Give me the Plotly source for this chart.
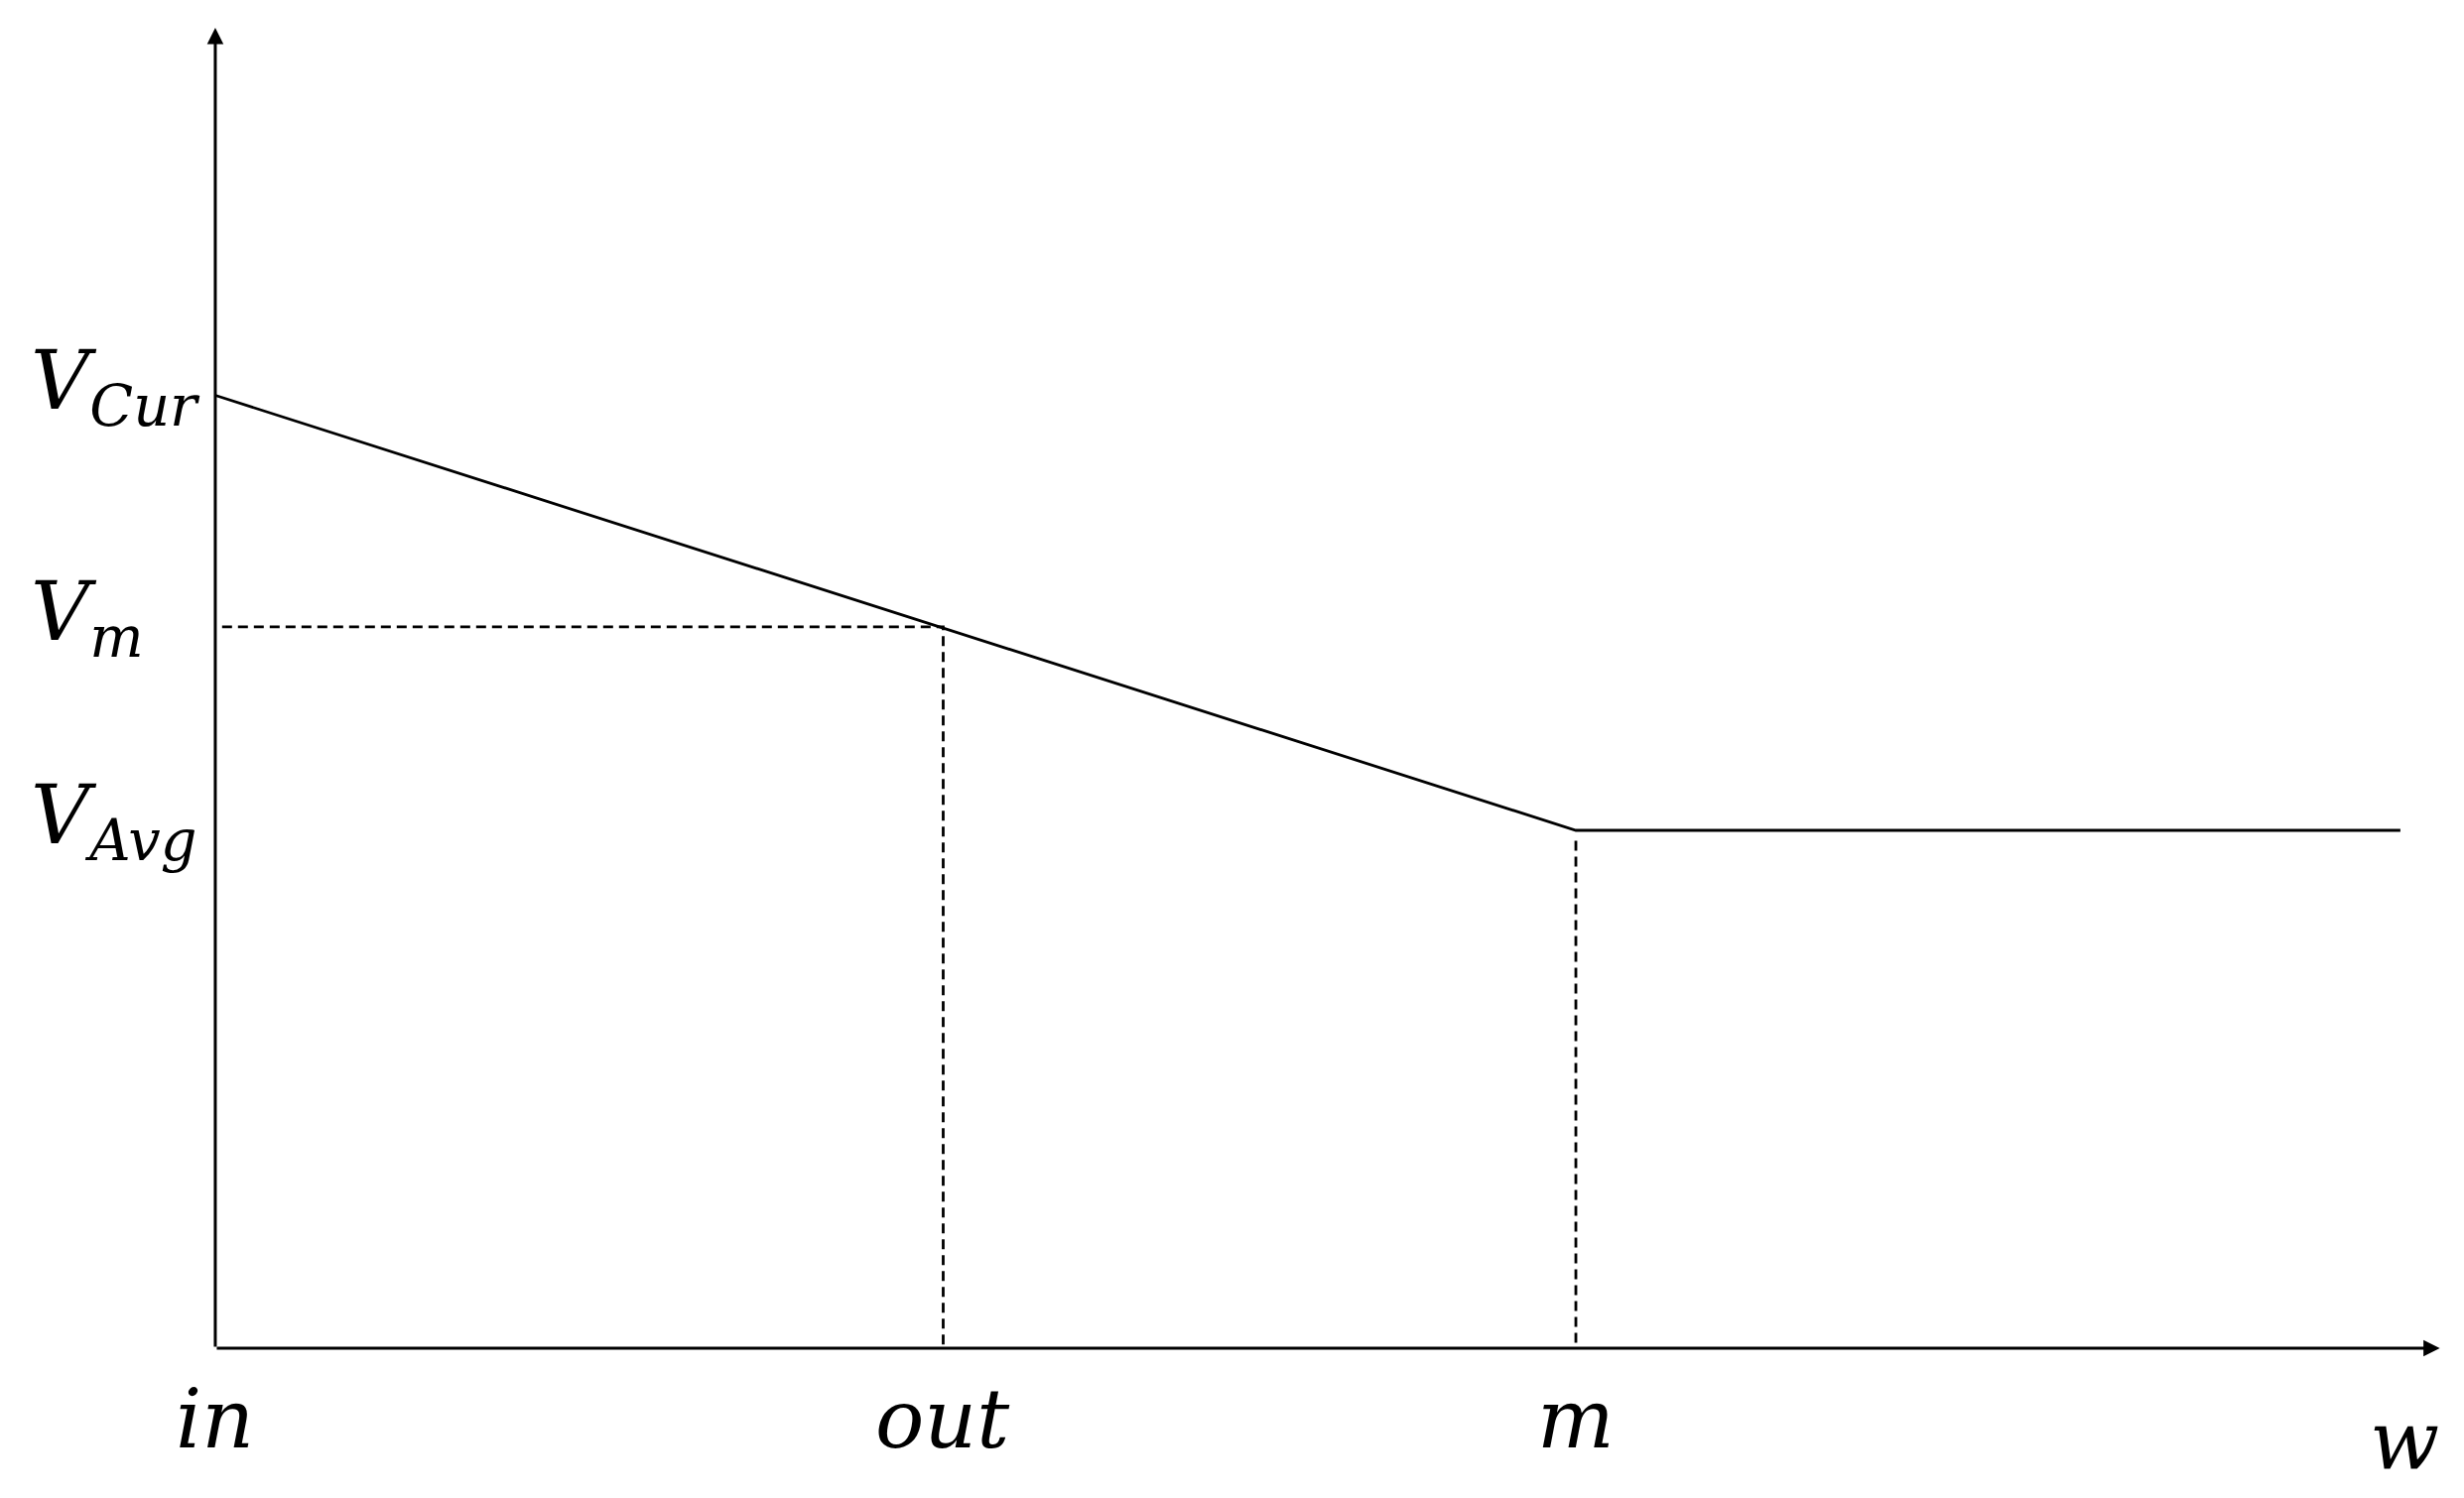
import plotly.graph_objects as go

# break-even sketch: value drops linearly from V_Cur until it meets V_Avg at m
X_TICKS = ["in", "out", "m"]
X_VALS = [0.0, 0.535, 1.0]
Y_LABELS = ["V<sub>Cur</sub>", "V<sub>m</sub>", "V<sub>Avg</sub>"]
Y_VALS = [1.84, 1.393, 1.0]
W_END = 1.606        # where the flat V_Avg line stops
AXIS_X_END = 1.635   # x-axis arrow tip
AXIS_Y_END = 2.55    # y-axis arrow tip

v_cur, v_m, v_avg = Y_VALS
x_in, x_out, x_m = X_VALS

FONT = dict(family="DejaVu Serif", size=82, style="italic", color="black")
DASH = dict(color="black", width=2.8, dash="10px,6px")

fig = go.Figure()

# value curve
fig.add_scatter(x=[x_in, x_m, W_END], y=[v_cur, v_avg, v_avg], mode="lines",
                line=dict(color="black", width=2.8), showlegend=False,
                hoverinfo="skip")
# guides to 'out'
fig.add_scatter(x=[x_in + 0.005, x_out, x_out], y=[v_m, v_m, 0], mode="lines",
                line=DASH, showlegend=False, hoverinfo="skip")
# guide to 'm'
fig.add_scatter(x=[x_m, x_m], y=[v_avg - 0.02, 0], mode="lines",
                line=DASH, showlegend=False, hoverinfo="skip")

annotations = []
# axes with arrow heads
for tip in [(AXIS_X_END, 0), (0, AXIS_Y_END)]:
    annotations.append(dict(x=tip[0], y=tip[1], ax=0, ay=0, xref="x", yref="y",
                            axref="x", ayref="y", text="", showarrow=True,
                            arrowhead=2, arrowsize=1.1, arrowwidth=3,
                            arrowcolor="black", standoff=0, startstandoff=0))

for lab, yv in zip(Y_LABELS, Y_VALS):
    annotations.append(dict(x=-0.137, y=yv, xref="x", yref="y", text=lab,
                            showarrow=False, xanchor="left", yanchor="middle",
                            yshift=9, font=FONT))
for lab, xv in zip(X_TICKS, X_VALS):
    annotations.append(dict(x=xv, y=-0.142, xref="x", yref="y", text=lab,
                            showarrow=False, xanchor="center", yanchor="middle",
                            yshift=3, font=FONT))
annotations.append(dict(x=1.609, y=-0.178, xref="x", yref="y", text="w",
                        showarrow=False, xanchor="center", yanchor="middle",
                        font=FONT))

fig.update_layout(
    width=2483, height=1510,
    margin=dict(l=0, r=0, t=0, b=0),
    paper_bgcolor="white", plot_bgcolor="white",
    xaxis=dict(range=[-0.1524, 1.6586], visible=False, fixedrange=True),
    yaxis=dict(range=[-0.3046, 2.5881], visible=False, fixedrange=True),
    annotations=annotations,
)

fig.write_html("out.html")
